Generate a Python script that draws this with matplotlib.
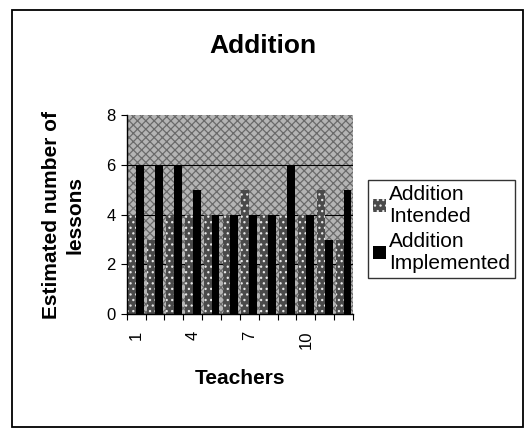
import numpy as np
import matplotlib
matplotlib.use("Agg")
import matplotlib.pyplot as plt
from matplotlib.patches import Rectangle

plt.rcParams['font.family'] = ['Liberation Sans', 'DejaVu Sans']
plt.rcParams['hatch.linewidth'] = 0.9

# data
teachers = np.arange(1, 13)
intended = [4, 3, 4, 4, 4, 4, 5, 4, 4, 4, 5, 3]
implemented = [6, 6, 6, 5, 4, 4, 4, 4, 6, 4, 3, 5]
tick_labels = ['1', '4', '7', '10']

fig = plt.figure(figsize=(5.26, 4.28), dpi=100)
ax = fig.add_axes([0.241, 0.266, 0.430, 0.465])

# dotted grey plot area like the old Excel print
ax.set_facecolor('#b4b4b4')
ax.add_patch(Rectangle((0, 0), 1, 1, transform=ax.transAxes, facecolor='none',
                       edgecolor='#6a6a6a', hatch='xxxx', lw=0, zorder=0))

for y in [2, 4, 6]:
    ax.axhline(y, color='black', lw=0.8, zorder=1)

w = 0.42
b1 = ax.bar(teachers - w / 2, intended, w, facecolor='#4a4a4a', edgecolor='#e8e8e8',
            hatch='...', lw=0, zorder=2, label='Addition\nIntended')
b2 = ax.bar(teachers + w / 2, implemented, w, color='black', lw=0, zorder=3,
            label='Addition\nImplemented')

ax.set_xlim(0.5, 12.5)
ax.set_ylim(0, 8)
ax.set_yticks([0, 2, 4, 6, 8])
ax.set_xticks(np.arange(0.5, 13, 1), minor=False)
ax.set_xticklabels([])
ax.set_xticks([1, 4, 7, 10], minor=True)
ax.set_xticklabels(tick_labels, minor=True, rotation=90, fontsize=12)
ax.tick_params(axis='x', which='minor', length=0, pad=12)
ax.tick_params(axis='x', which='major', length=4, direction='out', color='black')
ax.tick_params(axis='y', length=4, direction='out', labelsize=12, pad=4)

for side in ['top', 'right']:
    ax.spines[side].set_visible(False)
ax.spines['left'].set_linewidth(1.0)
ax.spines['bottom'].set_linewidth(1.0)

ax.set_xlabel('Teachers', fontsize=15, fontweight='bold', labelpad=14)
ax.set_ylabel('Estimated number of\nlessons', fontsize=15, fontweight='bold',
              labelpad=16, linespacing=1.3)
fig.text(0.50, 0.893, 'Addition', ha='center', va='center', fontsize=19,
         fontweight='bold')

leg = fig.legend(handles=[b1, b2], loc='lower left', bbox_to_anchor=(0.70, 0.35),
                 bbox_transform=fig.transFigure, fontsize=15, frameon=True,
                 fancybox=False, edgecolor='black', handlelength=0.6,
                 handleheight=0.6, handletextpad=0.15, borderpad=0.25,
                 labelspacing=0.3, borderaxespad=0)
leg.get_frame().set_linewidth(1.0)

# outer chart border
fig.add_artist(Rectangle((0.023, 0.003), 0.971, 0.974, transform=fig.transFigure,
                         fill=False, edgecolor='black', lw=1.3))

fig.savefig('out.png', dpi=100)
